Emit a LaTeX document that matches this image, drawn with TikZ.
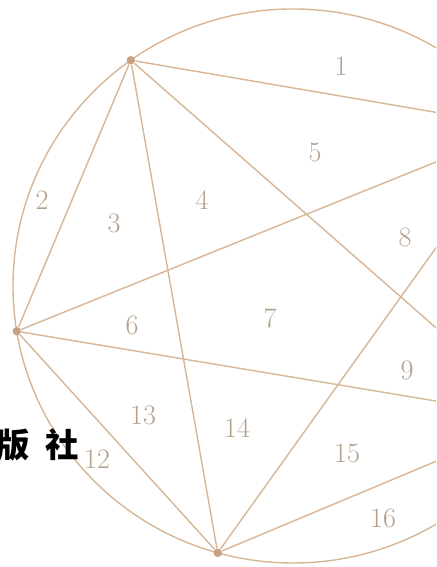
\documentclass[tikz,border=0pt]{standalone}
\usepackage{fontspec}
\newfontfamily\cjkfont{Noto Sans CJK SC}
\usepackage{xcolor}
\usetikzlibrary{calc}
\definecolor{chordclr}{RGB}{214,182,150}
\definecolor{numclr}{RGB}{178,160,138}
\definecolor{dotclr}{RGB}{198,162,130}

\begin{document}
\begin{tikzpicture}[
    x=0.02cm, y=0.02cm,
    chord/.style={draw=chordclr, line width=0.8pt},
    dot/.style={circle, fill=dotclr, inner sep=0pt, minimum size=0.17cm},
    region/.style={font=\fontsize{16}{16}\selectfont, text=numclr, inner sep=0pt}
]
    \useasboundingbox (0,0) rectangle (436,567);
    \clip (0,0) rectangle (436,567);

    % Circle
    \coordinate (O) at (293,281);
    \draw[chord] (O) ellipse [x radius=280, y radius=277];

    % Points on the circle
    \node[dot] (A) at ($(O)+(125.4:280 and 277)$) {};
    \node[dot] (B) at ($(O)+(189.4:280 and 277)$) {};
    \node[dot] (C) at ($(O)+(254.4:280 and 277)$) {};
    \node[dot] (D) at ($(O)+(35:280 and 277)$) {};
    \node[dot] (E) at ($(O)+(331.5:280 and 277)$) {};

    % Chords
    \foreach \p/\q in {A/B,A/C,A/D,A/E,B/C,B/D,B/E,C/D,C/E,D/E}
        \draw[chord] (\p) -- (\q);

    % Regions
    \node[region] (r1) at (341,501) {1};
    \node[region] (r2) at (42,367) {2};
    \node[region] (r3) at (114,344) {3};
    \node[region] (r4) at (202,367) {4};
    \node[region] (r5) at (315,415) {5};
    \node[region] (r6) at (132,242) {6};
    \node[region] (r7) at (270,249) {7};
    \node[region] (r8) at (405,330) {8};
    \node[region] (r9) at (407,197) {9};
    \node[region] (r12) at (97,108) {12};
    \node[region] (r13) at (143,152) {13};
    \node[region] (r14) at (237,139) {14};
    \node[region] (r15) at (347,114) {15};
    \node[region] (r16) at (383,49) {16};

    % Publisher text
    \node[anchor=east, inner sep=0pt, font=\cjkfont\bfseries\fontsize{19}{19}\selectfont] (pub) at (79,122) {版\hspace{0.45em}社};
\end{tikzpicture}
\end{document}
